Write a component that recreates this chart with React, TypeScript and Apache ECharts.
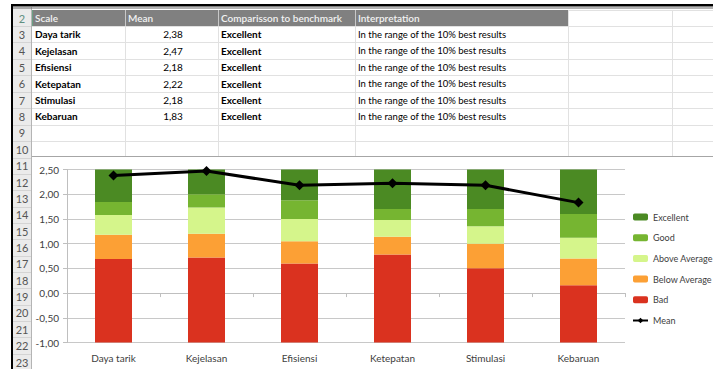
import React, { useEffect, useRef } from "react";
import * as echarts from "echarts";

const categories = ["Daya tarik", "Kejelasan", "Efisiensi", "Ketepatan", "Stimulasi", "Kebaruan"];
const means = [2.38, 2.47, 2.18, 2.22, 2.18, 1.83];
const comparisons = ["Excellent", "Excellent", "Excellent", "Excellent", "Excellent", "Excellent"];
const interpretations = [
  "In the range of the 10% best results",
  "In the range of the 10% best results",
  "In the range of the 10% best results",
  "In the range of the 10% best results",
  "In the range of the 10% best results",
  "In the range of the 10% best results",
];
const tableHeaders = ["Scale", "Mean", "Comparisson to benchmark", "Interpretation"];

// benchmark borders (upper edge of each band)
const lowerBorder = -1;
const badTop = [0.69, 0.72, 0.6, 0.78, 0.5, 0.16];
const belowTop = [1.18, 1.2, 1.05, 1.14, 1.0, 0.7];
const aboveTop = [1.58, 1.73, 1.5, 1.48, 1.35, 1.12];
const goodTop = [1.84, 2.0, 1.88, 1.7, 1.7, 1.6];
const upperLimit = 2.5;

const yMin = -1;
const yMax = 2.5;
const yInterval = 0.5;

const FONT = "Lato, 'Open Sans', sans-serif";

function fmt(v: number) {
  return v.toFixed(2).replace(".", ",");
}

function buildGraphics() {
  const g: any[] = [];
  const colX = [32, 125, 218, 355, 568, 672, 713];
  const headerTop = 10;
  const headerBottom = 26;
  const rowH = 16.45;
  const chartTop = 156;
  g.push({ type: "rect", shape: { x: 13, y: 7, width: 18, height: 362 }, style: { fill: "#ebebeb" }, silent: true });
  g.push({ type: "rect", shape: { x: 32, y: headerTop, width: 536, height: headerBottom - headerTop }, style: { fill: "#808080" }, silent: true });
  for (let k = 0; k <= 8; k++) {
    const y = Math.round(headerBottom + rowH * k) + 0.5;
    if (y >= chartTop) break;
    g.push({ type: "line", shape: { x1: 32, y1: y, x2: 713, y2: y }, style: { stroke: "#e1e1e1", lineWidth: 1 }, silent: true });
  }
  g.push({ type: "line", shape: { x1: 568, y1: headerTop + 0.5, x2: 713, y2: headerTop + 0.5 }, style: { stroke: "#e1e1e1", lineWidth: 1 }, silent: true });
  for (let c = 1; c < colX.length - 1; c++) {
    const x = colX[c] + 0.5;
    g.push({ type: "line", shape: { x1: x, y1: headerTop, x2: x, y2: chartTop }, style: { stroke: "#e1e1e1", lineWidth: 1 }, silent: true });
  }
  for (let c = 1; c <= 3; c++) {
    const x = colX[c] + 0.5;
    g.push({ type: "line", shape: { x1: x, y1: headerTop, x2: x, y2: headerBottom }, style: { stroke: "#c8c8c8", lineWidth: 1 }, silent: true });
  }
  const headX = [35, 128, 221, 358];
  tableHeaders.forEach((h, i) => {
    g.push({
      type: "text",
      x: headX[i],
      y: (headerTop + headerBottom) / 2,
      style: { text: h, fill: "#f2f2f2", font: `600 10px ${FONT}`, textVerticalAlign: "middle", textAlign: "left" },
      silent: true,
    });
  });
  categories.forEach((cat, i) => {
    const cy = headerBottom + rowH * i + rowH / 2;
    g.push({ type: "text", x: 35, y: cy, style: { text: cat, fill: "#000", font: `bold 10px ${FONT}`, textVerticalAlign: "middle" }, silent: true });
    g.push({ type: "text", x: 173, y: cy, style: { text: fmt(means[i]), fill: "#000", font: `10px ${FONT}`, textVerticalAlign: "middle", textAlign: "center" }, silent: true });
    g.push({ type: "text", x: 221, y: cy, style: { text: comparisons[i], fill: "#000", font: `bold 10px ${FONT}`, textVerticalAlign: "middle" }, silent: true });
    g.push({ type: "text", x: 358, y: cy, style: { text: interpretations[i], fill: "#000", font: `9.5px ${FONT}`, textVerticalAlign: "middle" }, silent: true });
  });
  const rowBounds: number[] = [headerTop];
  for (let k = 0; k <= 8; k++) rowBounds.push(headerBottom + rowH * k);
  const rh2 = 16.36;
  for (let k = 1; k <= 13; k++) rowBounds.push(157.5 + rh2 * k);
  for (let r = 2; r <= 23; r++) {
    const top = rowBounds[r - 2];
    const bot = rowBounds[r - 1];
    const cy = (top + bot) / 2;
    g.push({
      type: "line",
      shape: { x1: 13, y1: Math.round(bot) + 0.5, x2: 31, y2: Math.round(bot) + 0.5 },
      style: { stroke: "#d4d4d4", lineWidth: 1 },
      silent: true,
    });
    g.push({
      type: "text",
      x: 22,
      y: cy,
      style: { text: String(r), fill: r === 2 ? "#5f8f80" : "#555555", font: `11px ${FONT}`, textVerticalAlign: "middle", textAlign: "center" },
      silent: true,
    });
  }
  g.push({ type: "line", shape: { x1: 31.5, y1: 7, x2: 31.5, y2: 369 }, style: { stroke: "#b4b4b4", lineWidth: 1 }, silent: true });
  g.push({ type: "line", shape: { x1: 32.5, y1: headerTop, x2: 32.5, y2: headerBottom }, style: { stroke: "#6aa084", lineWidth: 1 }, silent: true });
  g.push({ type: "line", shape: { x1: 32, y1: chartTop + 0.5, x2: 713, y2: chartTop + 0.5 }, style: { stroke: "#a6a6a6", lineWidth: 1 }, silent: true });
  g.push({ type: "rect", shape: { x: 11, y: 4, width: 702, height: 2.5 }, style: { fill: "#000" }, silent: true });
  g.push({ type: "line", shape: { x1: 13, y1: 8, x2: 713, y2: 8 }, style: { stroke: "#666", lineWidth: 1 }, silent: true });
  g.push({ type: "rect", shape: { x: 11, y: 4, width: 2, height: 365 }, style: { fill: "#000" }, silent: true });
  return g;
}

export default function App() {
  const ref = useRef<HTMLDivElement>(null);
  useEffect(() => {
    if (!ref.current) return;
    const chart = echarts.init(ref.current, undefined, { renderer: "svg" });
    const base = categories.map(() => lowerBorder);
    const bad = categories.map((_, i) => +(badTop[i] - lowerBorder).toFixed(2));
    const below = categories.map((_, i) => +(belowTop[i] - badTop[i]).toFixed(2));
    const above = categories.map((_, i) => +(aboveTop[i] - belowTop[i]).toFixed(2));
    const good = categories.map((_, i) => +(goodTop[i] - aboveTop[i]).toFixed(2));
    const excellent = categories.map((_, i) => +(upperLimit - goodTop[i]).toFixed(2));

    const barCommon = {
      type: "bar",
      stack: "bm",
      stackStrategy: "all",
      barWidth: 37,
      emphasis: { disabled: true },
    };

    chart.setOption({
      animation: false,
      backgroundColor: "#ffffff",
      textStyle: { fontFamily: FONT },
      graphic: buildGraphics(),
      grid: { left: 67, right: 88, top: 169.5, bottom: 26.5, containLabel: false },
      legend: {
        orient: "vertical",
        left: 627,
        top: 206,
        itemWidth: 15,
        itemHeight: 7,
        itemGap: 8.7,
        selectedMode: false,
        data: ["Excellent", "Good", "Above Average", "Below Average", "Bad", "Mean"],
        textStyle: { fontSize: 9, color: "#404040", fontFamily: FONT, lineHeight: 12 },
      },
      xAxis: {
        type: "category",
        data: categories,
        boundaryGap: true,
        axisLine: { show: true, lineStyle: { color: "#bfbfbf", width: 1 } },
        axisTick: { show: true, length: 4, inside: false, lineStyle: { color: "#bfbfbf" } },
        axisLabel: { fontSize: 10, color: "#404040", margin: 10, fontFamily: FONT },
      },
      yAxis: {
        type: "value",
        min: yMin,
        max: yMax,
        interval: yInterval,
        axisLine: { show: true, lineStyle: { color: "#bfbfbf" } },
        axisTick: { show: true, length: 4, lineStyle: { color: "#bfbfbf" } },
        splitLine: { show: true, lineStyle: { color: "#c8c8c8", width: 1 } },
        axisLabel: { fontSize: 10, color: "#404040", margin: 8, fontFamily: FONT, formatter: (v: number) => fmt(v) },
      },
      series: [
        { ...barCommon, name: "base", data: base, itemStyle: { color: "rgba(0,0,0,0)" }, silent: true },
        { ...barCommon, name: "Bad", data: bad, itemStyle: { color: "#da321f" } },
        { ...barCommon, name: "Below Average", data: below, itemStyle: { color: "#fca035" } },
        { ...barCommon, name: "Above Average", data: above, itemStyle: { color: "#d5f58b" } },
        { ...barCommon, name: "Good", data: good, itemStyle: { color: "#76b531" } },
        { ...barCommon, name: "Excellent", data: excellent, itemStyle: { color: "#4b8a23" } },
        {
          type: "line",
          name: "Mean",
          data: means,
          symbol: "diamond",
          symbolSize: 10,
          z: 5,
          lineStyle: { color: "#000", width: 3 },
          itemStyle: { color: "#000" },
          emphasis: { disabled: true },
        },
      ],
    });
    return () => chart.dispose();
  }, []);
  return <div ref={ref} style={{ position: "fixed", left: 0, top: 0, width: 713, height: 369 }} />;
}
